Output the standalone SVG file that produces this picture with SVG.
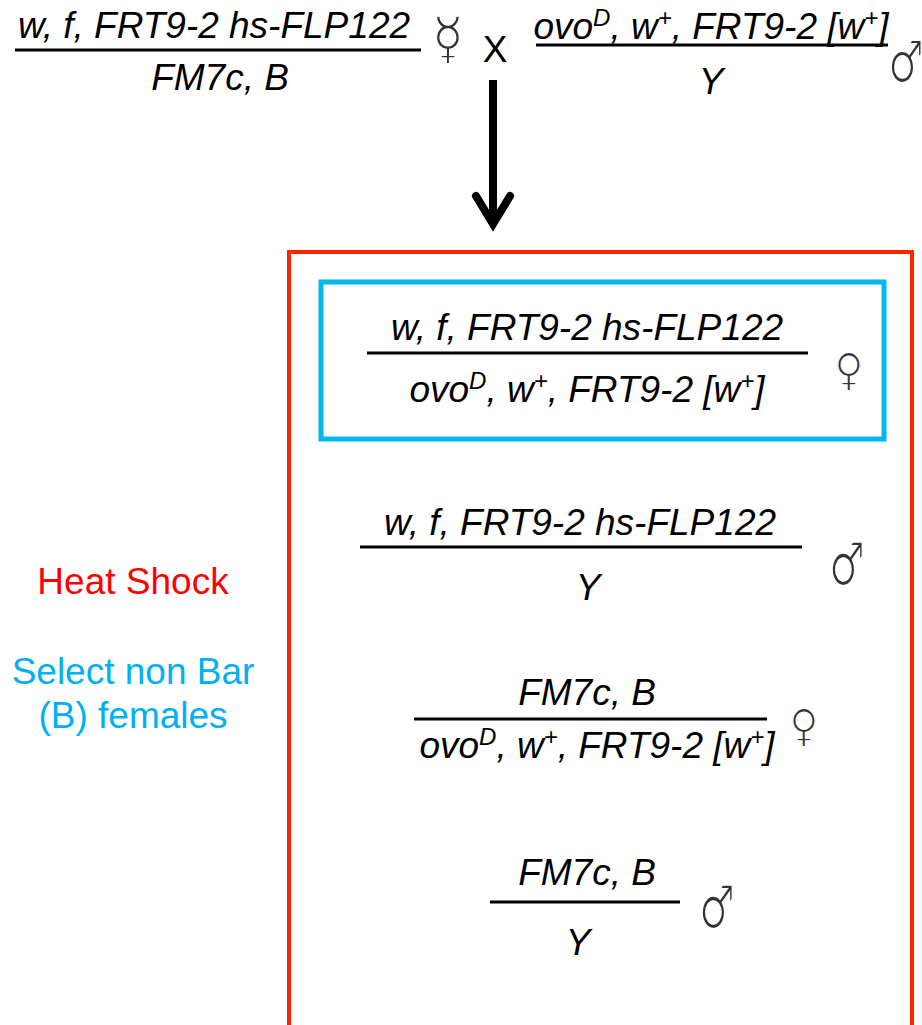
<svg xmlns="http://www.w3.org/2000/svg" width="922" height="1025" viewBox="0 0 922 1025">
  <style>
    .g { font-family: "Liberation Sans", Arial, sans-serif; font-style: italic; font-size: 37px; fill: #000; text-anchor: middle; }
    .sup { font-size: 24px; }
    /* sex symbols: thin grey glyphs, a white outline trims the strokes */
    .sym { font-family: "DejaVu Sans", sans-serif; font-size: 40px; fill: #333; stroke: #fff; stroke-width: 1.3px; text-anchor: middle; }
    .merc { font-size: 52px; }
    .bar { stroke: #000; stroke-width: 3; }
    .lab { font-family: "Liberation Sans", Arial, sans-serif; font-size: 37px; text-anchor: middle; }
  </style>

  <!-- parental cross -->
  <g id="parent-female">
    <text class="g" x="214" y="38">w, f, FRT9-2 hs-FLP122</text>
    <line class="bar" x1="15" y1="50" x2="421" y2="50"/>
    <text class="g" x="220" y="90">FM7c, B</text>
    <text class="sym merc" transform="translate(448,58) scale(1,1.1)">☿</text>
  </g>
  <text id="cross" x="495" y="62" font-family="Liberation Sans, Arial, sans-serif" font-size="37" text-anchor="middle">X</text>
  <g id="parent-male">
    <text class="g" x="711" y="39">ovo<tspan class="sup" dy="-13">D</tspan><tspan dy="13">, w</tspan><tspan class="sup" dy="-13">+</tspan><tspan dy="13">, FRT9-2 [w</tspan><tspan class="sup" dy="-13">+</tspan><tspan dy="13">]</tspan></text>
    <line class="bar" x1="536" y1="45" x2="888" y2="45"/>
    <text class="g" x="711" y="94">Y</text>
    <text class="sym" transform="translate(906,82) scale(1,1.45)">♂</text>
  </g>

  <!-- connectors -->
  <g id="connectors">
    <line x1="493" y1="80" x2="493" y2="222" stroke="#000" stroke-width="8"/>
    <polyline points="476,196 493,224 510,196" fill="none" stroke="#000" stroke-width="8" stroke-linecap="round" stroke-linejoin="miter"/>
  </g>

  <!-- heat-shock progeny frame -->
  <g id="heat-shock-frame">
    <polyline points="289,1025 289,252 912,252 912,1025" fill="none" stroke="#ff2400" stroke-width="4"/>
  </g>

  <g id="progeny-1">
    <rect x="321" y="282" width="563" height="157" fill="none" stroke="#00b8f0" stroke-width="5"/>
    <text class="g" x="587" y="340">w, f, FRT9-2 hs-FLP122</text>
    <line class="bar" x1="367" y1="353" x2="808" y2="353"/>
    <text class="g" x="587" y="402">ovo<tspan class="sup" dy="-13">D</tspan><tspan dy="13">, w</tspan><tspan class="sup" dy="-13">+</tspan><tspan dy="13">, FRT9-2 [w</tspan><tspan class="sup" dy="-13">+</tspan><tspan dy="13">]</tspan></text>
    <text class="sym" transform="translate(849,385) scale(1,1.12)">♀</text>
  </g>

  <g id="progeny-2">
    <text class="g" x="580" y="535">w, f, FRT9-2 hs-FLP122</text>
    <line class="bar" x1="360" y1="547" x2="802" y2="547"/>
    <text class="g" x="588" y="600">Y</text>
    <text class="sym" transform="translate(847,585) scale(1,1.5)">♂</text>
  </g>

  <g id="progeny-3">
    <text class="g" x="587" y="705">FM7c, B</text>
    <line class="bar" x1="414" y1="719" x2="767" y2="719"/>
    <text class="g" x="597" y="758">ovo<tspan class="sup" dy="-13">D</tspan><tspan dy="13">, w</tspan><tspan class="sup" dy="-13">+</tspan><tspan dy="13">, FRT9-2 [w</tspan><tspan class="sup" dy="-13">+</tspan><tspan dy="13">]</tspan></text>
    <text class="sym" transform="translate(804,741) scale(1,1.12)">♀</text>
  </g>

  <g id="progeny-4">
    <text class="g" x="587" y="885">FM7c, B</text>
    <line class="bar" x1="490" y1="902" x2="680" y2="902"/>
    <text class="g" x="578" y="955">Y</text>
    <text class="sym" transform="translate(717,928) scale(1,1.5)">♂</text>
  </g>

  <!-- step labels -->
  <g id="label-heat-shock">
    <text class="lab" x="133" y="594" fill="#ff0000">Heat Shock</text>
  </g>
  <g id="label-select">
    <text class="lab" x="133" y="684" fill="#00b0f0">Select non Bar</text>
    <text class="lab" x="133" y="728" fill="#00b0f0">(B) females</text>
  </g>
</svg>
